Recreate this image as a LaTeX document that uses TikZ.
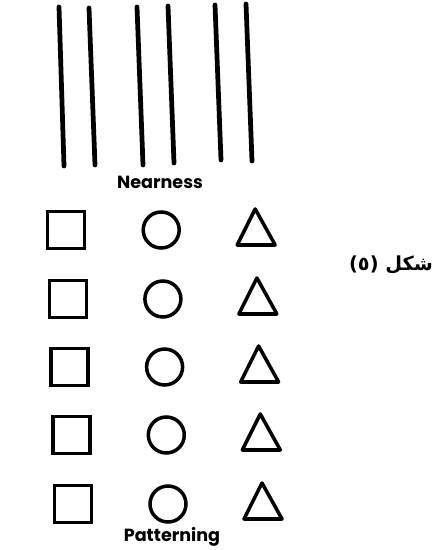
\documentclass[tikz,border=0pt]{standalone}
\usepackage{fontspec}
\newfontfamily\labelfont{Poppins}
\newfontfamily\arabicfont[Script=Arabic]{DejaVu Sans}
\TeXXeTstate=1
\usepackage{tikz}
\usetikzlibrary{positioning,calc}

\begin{document}
\begin{tikzpicture}[
  x=0.02cm, y=-0.02cm,
  bar/.style={line width=2.7pt, line cap=round},
  sqbox/.style={draw, line width=2pt, inner sep=0pt, minimum size=0.74cm},
  ring/.style={draw, circle, line width=2pt, inner sep=0pt, minimum size=0.72cm},
  tri/.style={line width=2pt, line join=round},
  caption/.style={font=\labelfont\bfseries\fontsize{10}{12}\selectfont},
]
  \useasboundingbox (0,0) rectangle (435,550);

  % Vertical lines
  \foreach \n/\xa/\ya/\xb/\yb in {1/59/7/64/166, 2/89/8/95/165, 3/137/7/143/165,
                                  4/168/6/174/163, 5/215/5/221/160, 6/246/4/252/161} {
    \coordinate (top\n) at (\xa,\ya);
    \coordinate (bot\n) at (\xb,\yb);
    \draw[bar] (top\n) -- (bot\n);
  }

  \node[caption] (nearness) at (160,182) {Nearness};

  % Rows of shapes
  \foreach \i/\y in {1/230, 2/299, 3/367, 4/435, 5/504} {
    \node[sqbox] (sq\i) at ({64.5+1.7*\i},\y) {};
    \node[ring] (ci\i) at ({159.5+1.7*\i},\y) {};
    \coordinate (apex\i) at ({253.5+1.7*\i},{\y-21});
    \coordinate (bl\i) at ({235.5+1.7*\i},{\y+15});
    \coordinate (br\i) at ({273.5+1.7*\i},{\y+15});
    \draw[tri] (apex\i) -- (bl\i) -- (br\i) -- cycle;
  }

  \node[caption] (patterning) at (172,537) {Patterning};

  % Figure label
  \node[font=\arabicfont\bfseries\fontsize{11}{13}\selectfont] (fig) at (391,265) {\beginR شكل (٥)\endR};
\end{tikzpicture}
\end{document}
